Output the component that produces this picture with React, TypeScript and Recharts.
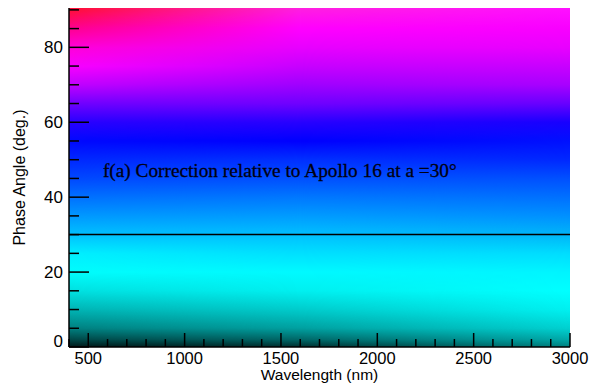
import React from "react";
import {
  ComposedChart,
  Line,
  XAxis,
  YAxis,
  ReferenceArea,
  ReferenceDot,
  Label,
} from "recharts";

// phase angle (deg) at which colours were sampled, top to bottom
const angleStops = [90.5, 85, 80, 75, 70, 65, 60, 55, 50, 45, 40, 35, 30, 25, 20, 15, 10, 5, 2, 0];

// colour of the correction map along three wavelength columns
const leftColors = [
  "#ff1030", "#ff0090", "#ff00d8", "#f800ff", "#c000ff", "#7000ff", "#2800ff",
  "#0008ff", "#0028ff", "#0048ff", "#0070ff", "#0098ff", "#00c0ff", "#00eeff",
  "#00fcfc", "#00e0e0", "#00b4b4", "#008080", "#004848", "#001818",
];
const midColors = [
  "#ff20e0", "#ff00ff", "#e800ff", "#c800ff", "#a000ff", "#7000ff", "#2800ff",
  "#0000ff", "#0030ff", "#0050ff", "#0078ff", "#009cff", "#00c0ff", "#00e0ff",
  "#00faff", "#00f0f0", "#00cccc", "#00a0a0", "#006868", "#003030",
];
const rightColors = [
  "#ff10ff", "#f800ff", "#e800ff", "#c800ff", "#a800ff", "#6800ff", "#1800ff",
  "#0010ff", "#0028ff", "#0050ff", "#0070ff", "#0090ff", "#00b4f8", "#00dcff",
  "#00f4ff", "#00ffff", "#00f0f0", "#00d0d0", "#00a8a8", "#008080",
];
const columnWavelengths = [400, 1600, 3000];

const wavelengthTicks = [
  400, 500, 600, 700, 800, 900, 1000, 1100, 1200, 1300, 1400, 1500, 1600, 1700,
  1800, 1900, 2000, 2100, 2200, 2300, 2400, 2500, 2600, 2700, 2800, 2900, 3000,
];
const angleTicks = [0, 5, 10, 15, 20, 25, 30, 35, 40, 45, 50, 55, 60, 65, 70, 75, 80, 85, 90];

// reference phase angle line (Apollo 16 at 30 deg)
const referenceLine = [
  { wavelength: 400, angle: 30 },
  { wavelength: 3000, angle: 30 },
];

const X_DOMAIN: [number, number] = [400, 3000];
const Y_DOMAIN: [number, number] = [0, 90.5];
const TICK_FONT = "'Liberation Sans', Arial, sans-serif";

function stopsFor(colors: string[]) {
  const span = Y_DOMAIN[1] - Y_DOMAIN[0];
  return angleStops.map((a, i) => (
    <stop key={i} offset={(Y_DOMAIN[1] - a) / span} stopColor={colors[i]} />
  ));
}

function ColorMap(props: any) {
  const { x, y, width, height } = props;
  const midFrac = (columnWavelengths[1] - X_DOMAIN[0]) / (X_DOMAIN[1] - X_DOMAIN[0]);
  return (
    <g>
      <defs>
        <linearGradient id="colLeft" x1="0" y1="0" x2="0" y2="1">{stopsFor(leftColors)}</linearGradient>
        <linearGradient id="colMid" x1="0" y1="0" x2="0" y2="1">{stopsFor(midColors)}</linearGradient>
        <linearGradient id="colRight" x1="0" y1="0" x2="0" y2="1">{stopsFor(rightColors)}</linearGradient>
        <linearGradient id="fadeLeft" x1="0" y1="0" x2="1" y2="0">
          <stop offset={0} stopColor="#fff" />
          <stop offset={midFrac} stopColor="#000" />
        </linearGradient>
        <linearGradient id="fadeRight" x1="0" y1="0" x2="1" y2="0">
          <stop offset={midFrac} stopColor="#000" />
          <stop offset={1} stopColor="#fff" />
        </linearGradient>
        <mask id="maskLeft" maskContentUnits="objectBoundingBox">
          <rect x={0} y={0} width={1} height={1} fill="url(#fadeLeft)" />
        </mask>
        <mask id="maskRight" maskContentUnits="objectBoundingBox">
          <rect x={0} y={0} width={1} height={1} fill="url(#fadeRight)" />
        </mask>
      </defs>
      <rect x={x} y={y} width={width} height={height} fill="url(#colMid)" />
      <rect x={x} y={y} width={width} height={height} fill="url(#colLeft)" mask="url(#maskLeft)" />
      <rect x={x} y={y} width={width} height={height} fill="url(#colRight)" mask="url(#maskRight)" />
    </g>
  );
}

function BottomTick({ x, y, payload }: any) {
  const v = payload.value;
  const major = v % 500 === 0;
  return (
    <g>
      <line x1={x} y1={y} x2={x} y2={y - (major ? 14 : 8)} stroke="#000" strokeWidth={1.5} />
      {major && (
        <text x={x} y={y + 17} textAnchor="middle" fontSize={16.5} fontFamily={TICK_FONT} fill="#000">
          {v}
        </text>
      )}
    </g>
  );
}

function TopTick({ x, y, payload }: any) {
  const major = payload.value % 500 === 0;
  return <line x1={x} y1={y} x2={x} y2={y + (major ? 15 : 8)} stroke="#000" strokeWidth={1.5} />;
}

function LeftTick({ x, y, payload }: any) {
  const v = payload.value;
  const major = v % 20 === 0;
  return (
    <g>
      <line x1={x} y1={y} x2={x + (major ? 20 : 10)} y2={y} stroke="#000" strokeWidth={1.5} />
      {major && (
        <text
          x={x - 6}
          y={(v === 0 ? y - 6 : y) + 6}
          textAnchor="end"
          fontSize={17}
          fontFamily={TICK_FONT}
          fill="#000"
        >
          {v}
        </text>
      )}
    </g>
  );
}

function RightTick({ x, y, payload }: any) {
  const major = payload.value % 20 === 0;
  return <line x1={x} y1={y} x2={x - (major ? 20 : 10)} y2={y} stroke="#000" strokeWidth={1.5} />;
}

function Annotation({ cx, cy }: any) {
  return (
    <text
      x={cx}
      y={cy}
      fontSize={19.3}
      fontFamily="'Liberation Serif', 'Times New Roman', serif"
      fill="#000010"
      stroke="#000010"
      strokeWidth={0.3}
    >
      f(a) Correction relative to Apollo 16 at a =30°
    </text>
  );
}

export default function App() {
  return (
    <div style={{ position: "absolute", left: 0, top: 0, background: "#fff" }}>
      <ComposedChart
        width={598}
        height={387}
        data={referenceLine}
        margin={{ top: 8, right: 28, bottom: 0, left: 0 }}
      >
        <ReferenceArea
          x1={X_DOMAIN[0]}
          x2={X_DOMAIN[1]}
          y1={Y_DOMAIN[0]}
          y2={Y_DOMAIN[1]}
          shape={ColorMap}
        />
        <XAxis
          dataKey="wavelength"
          type="number"
          domain={X_DOMAIN}
          ticks={wavelengthTicks}
          interval={0}
          height={40}
          tickSize={0}
          tickMargin={0}
          tickLine={false}
          tick={<BottomTick />}
          axisLine={{ stroke: "#000", strokeWidth: 1.5 }}
        >
          <Label
            content={({ viewBox }: any) => (
              <text
                x={viewBox.x + viewBox.width / 2}
                y={viewBox.y + 33}
                textAnchor="middle"
                fontSize={15.5}
                fontFamily={TICK_FONT}
                fill="#000"
              >
                Wavelength (nm)
              </text>
            )}
          />
        </XAxis>
        <XAxis
          xAxisId="top"
          orientation="top"
          dataKey="wavelength"
          type="number"
          domain={X_DOMAIN}
          ticks={wavelengthTicks}
          interval={0}
          height={0}
          tickSize={0}
          tickMargin={0}
          tickLine={false}
          tick={<TopTick />}
          axisLine={{ stroke: "#000", strokeWidth: 1.5 }}
        />
        <YAxis
          dataKey="angle"
          type="number"
          domain={Y_DOMAIN}
          ticks={angleTicks}
          interval={0}
          width={69}
          tickSize={0}
          tickMargin={0}
          tickLine={false}
          tick={<LeftTick />}
          axisLine={{ stroke: "#000", strokeWidth: 1.5 }}
        >
          <Label
            content={({ viewBox }: any) => {
              const cy = viewBox.y + viewBox.height / 2;
              return (
                <text
                  x={25}
                  y={cy}
                  transform={`rotate(-90, 25, ${cy})`}
                  textAnchor="middle"
                  fontSize={16}
                  fontFamily={TICK_FONT}
                  fill="#000"
                >
                  Phase Angle (deg.)
                </text>
              );
            }}
          />
        </YAxis>
        <YAxis
          yAxisId="right"
          orientation="right"
          dataKey="angle"
          type="number"
          domain={Y_DOMAIN}
          ticks={angleTicks}
          interval={0}
          width={0}
          tickSize={0}
          tickMargin={0}
          tickLine={false}
          tick={<RightTick />}
          axisLine={{ stroke: "#000", strokeWidth: 1.5 }}
        />
        <ReferenceDot x={576} y={45.4} r={0} shape={Annotation} />
        <Line
          dataKey="angle"
          stroke="#000"
          strokeWidth={1.5}
          dot={false}
          isAnimationActive={false}
        />
      </ComposedChart>
    </div>
  );
}
